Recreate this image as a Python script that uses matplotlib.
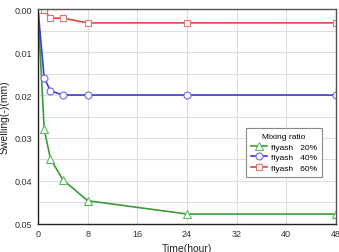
import numpy as np
import matplotlib.pyplot as plt
from matplotlib.ticker import MultipleLocator

plt.rcParams['font.family'] = ['Liberation Sans', 'DejaVu Sans']

hours_red = [0, 0.5, 1, 2, 4, 8, 24, 48]
swell_60 = [0, 0.0002, 0.0002, 0.0021, 0.0021, 0.0032, 0.0032, 0.0032]

hours = [0, 1, 2, 4, 8, 24, 48]
swell_40 = [0, 0.0160, 0.0190, 0.0200, 0.0200, 0.0200, 0.0200]
swell_20 = [0, 0.0279, 0.0348, 0.0397, 0.0446, 0.0477, 0.0477]

labels = ['flyash   20%', 'flyash   40%', 'flyash   60%']

fig = plt.figure(figsize=(3.39, 2.53), dpi=100)
ax = fig.add_axes([0.112, 0.111, 0.879, 0.849])

ax.plot(hours, swell_20, color='#3c9a3c', lw=1.2, marker='^', ms=6,
        mfc='white', mec='#5cb85c', mew=0.8, markevery=range(1, len(hours)),
        label=labels[0])
ax.plot(hours, swell_40, color='#3c3ce0', lw=1.2, marker='o', ms=5,
        mfc='white', mec='#6b6bf0', mew=0.8, markevery=range(1, len(hours)),
        label=labels[1])
ax.plot(hours_red, swell_60, color='#e04545', lw=1.2, marker='s', ms=4.8,
        mfc='white', mec='#f07070', mew=0.8, markevery=range(1, len(hours_red)),
        label=labels[2])

ax.set_xlim(0, 48)
ax.set_ylim(0.05, 0)
ax.xaxis.set_major_locator(MultipleLocator(8))
ax.yaxis.set_major_locator(MultipleLocator(0.01))
ax.yaxis.set_minor_locator(MultipleLocator(0.005))
ax.yaxis.set_major_formatter(lambda v, p: f'{v:.2f}')
ax.grid(True, which='major', color='#dddddd', lw=0.8)
ax.grid(True, which='minor', axis='y', color='#dddddd', lw=0.8)
ax.set_axisbelow(True)
ax.tick_params(which='both', length=0, labelsize=6.5, colors='#333333', pad=4)
for s in ax.spines.values():
    s.set_color('#555555')
    s.set_linewidth(1.0)
ax.spines['left'].set_color('#222222')
ax.spines['bottom'].set_color('#222222')

ax.set_xlabel('Time(hour)', fontsize=7.5, color='#222222', labelpad=3)
ax.set_ylabel('Swelling(-)(mm)', fontsize=7.5, color='#222222', labelpad=4)

leg = ax.legend(title='Mixing ratio', loc='upper left', bbox_to_anchor=(0.698, 0.447),
                borderaxespad=0, fontsize=6, title_fontsize=6, fancybox=False,
                framealpha=1, edgecolor='#888888', handlelength=1.9, borderpad=0.6,
                labelspacing=0.35, handletextpad=0.45)
leg.get_frame().set_linewidth(0.8)

fig.savefig('out.png', dpi=100)
